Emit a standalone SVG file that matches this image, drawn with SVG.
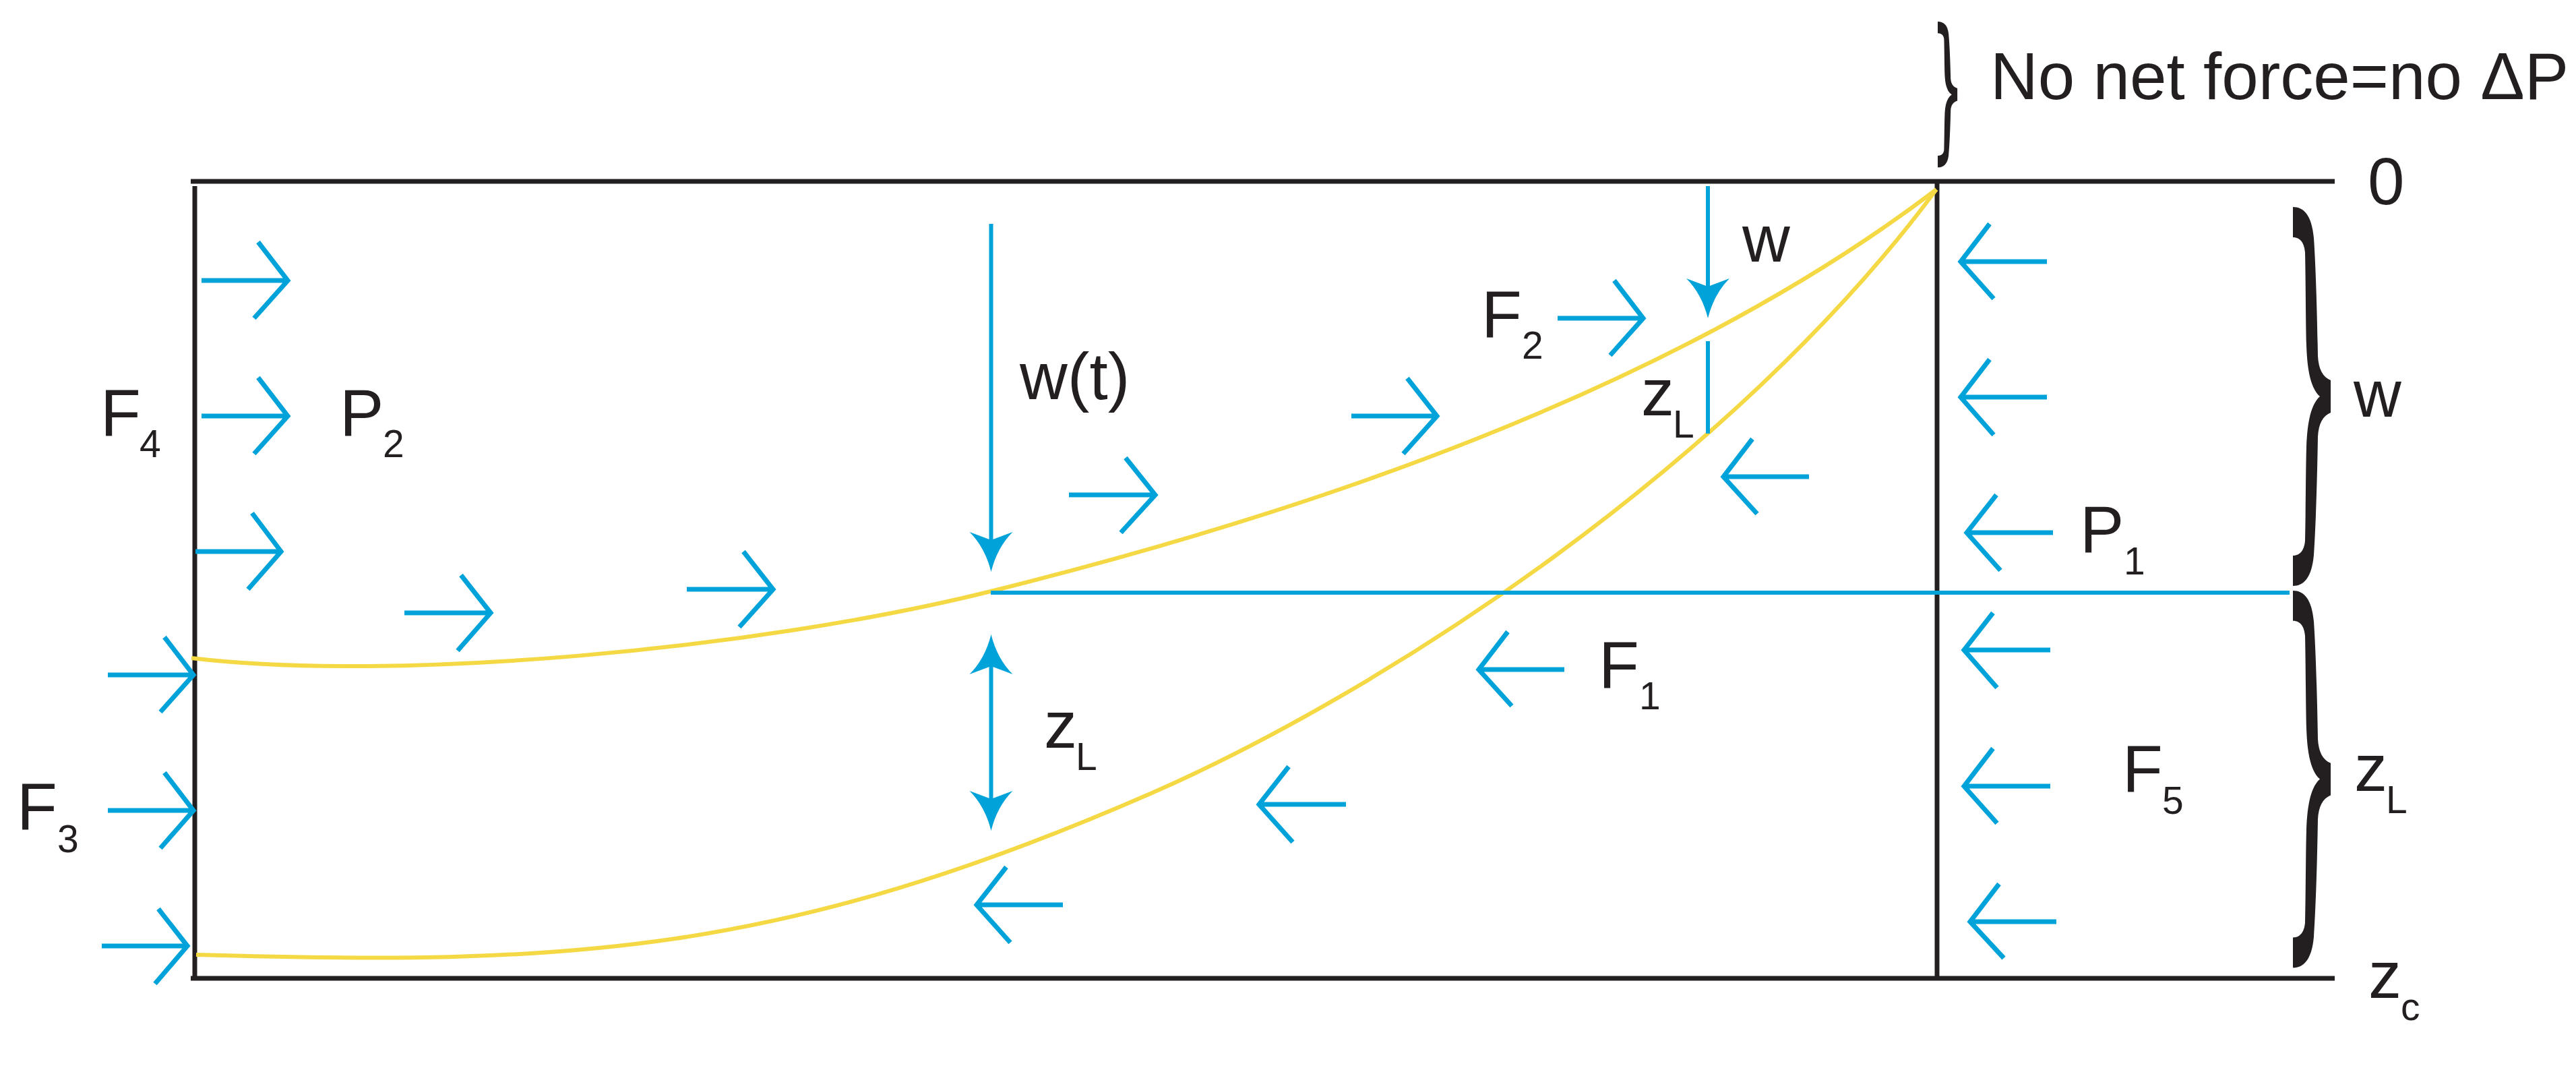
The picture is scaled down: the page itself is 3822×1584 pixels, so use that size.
<svg xmlns="http://www.w3.org/2000/svg" width="3822" height="1584" viewBox="0 0 3822 1584">
<style>
.frame{stroke:#231f20;stroke-width:7;fill:none}
.cv{stroke:#f4d944;stroke-width:6;fill:none}
.ar{stroke:#00a3d9;stroke-width:7;fill:none}
.bl{stroke:#00a3d9;stroke-width:6;fill:none}
.barb{fill:#00a3d9}
.br{fill:#231f20}
text{font-family:"Liberation Sans",Arial,Helvetica,sans-serif;fill:#231f20;font-size:98px}
.s{font-size:57px}
</style>
<defs>
<path id="barb" d="M0,0 Q-9,-36 -32,-59 L0,-47 L32,-59 Q9,-36 0,0 Z"/>
<path id="brace" d="M0,0 C16,0 28,12 31,46 C34,90 36,160 37,221 C38,240 44,252 56,257 L56,305 C44,310 38,322 37,341 C36,402 34,472 31,516 C28,550 16,562 0,562 L0,517 C12,517 17,507 18,495 C19,452 19,392 20,357 C21,330 24,295 40,281 C24,267 21,232 20,205 C19,170 19,110 18,67 C17,55 12,45 0,45 Z"/>
</defs>
<rect width="3822" height="1584" fill="#ffffff"/>

<g id="frame">
<line class="frame" x1="283" y1="269" x2="3464" y2="269"/>
<line class="frame" x1="283" y1="1451" x2="3464" y2="1451"/>
<line class="frame" x1="289" y1="276" x2="289" y2="1451"/>
<line class="frame" x1="2874" y1="269" x2="2874" y2="1451"/>
</g>

<g id="curves">
<path id="upper-curve" class="cv" d="M284,976 C584,1012 1120,964 1470,877 C1920,765 2473,585 2873,281"/>
<path id="lower-curve" class="cv" d="M291,1416 C841,1432 1157,1417 1707,1177 C2057,1024 2573,686 2873,281"/>
<line id="level-line" class="bl" x1="1470" y1="879" x2="3397" y2="879"/>
</g>

<g id="connectors">
<g id="force-arrows-right">
<path class="ar" d="M299,416 H427 M383,359 L427,416 L377,472"/>
<path class="ar" d="M299,617 H427 M383,560 L427,617 L377,673"/>
<path class="ar" d="M290,818 H417 M374,761 L417,818 L368,874"/>
<path class="ar" d="M600,909 H728 M684,853 L728,909 L679,965"/>
<path class="ar" d="M1019,874 H1147 M1103,818 L1147,874 L1097,930"/>
<path class="ar" d="M1586,734 H1714 M1670,679 L1714,734 L1663,790"/>
<path class="ar" d="M2005,617 H2132 M2088,561 L2132,617 L2082,673"/>
<path class="ar" d="M2311,472 H2438 M2395,416 L2438,472 L2389,527"/>
<path class="ar" d="M160,1001 H287 M244,945 L287,1001 L238,1056"/>
<path class="ar" d="M160,1202 H287 M244,1146 L287,1202 L238,1258"/>
<path class="ar" d="M151,1403 H278 M235,1348 L278,1403 L230,1459"/>
</g>
<g id="force-arrows-left">
<path class="ar" d="M2684,707 H2557 M2600,651 L2557,707 L2607,762"/>
<path class="ar" d="M2321,993 H2194 M2237,937 L2194,993 L2243,1047"/>
<path class="ar" d="M1997,1193 H1868 M1912,1137 L1868,1193 L1918,1249"/>
<path class="ar" d="M1577,1342 H1449 M1493,1286 L1449,1342 L1499,1398"/>
<path class="ar" d="M3037,388 H2909 M2952,332 L2909,388 L2958,443"/>
<path class="ar" d="M3037,589 H2909 M2952,533 L2909,589 L2958,645"/>
<path class="ar" d="M3046,790 H2918 M2962,734 L2918,790 L2968,846"/>
<path class="ar" d="M3042,964 H2914 M2957,909 L2914,964 L2963,1020"/>
<path class="ar" d="M3042,1166 H2914 M2957,1110 L2914,1166 L2963,1221"/>
<path class="ar" d="M3051,1367 H2923 M2966,1311 L2923,1367 L2973,1421"/>
</g>
<g id="dimension-arrows">
<line class="bl" x1="1470.5" y1="332" x2="1470.5" y2="808" stroke-width="5"/>
<use href="#barb" class="barb" x="1470.5" y="848"/>
<line class="bl" x1="1470.5" y1="985" x2="1470.5" y2="1190" stroke-width="5"/>
<use href="#barb" class="barb" transform="translate(1470.5,941) scale(1,-1)"/>
<use href="#barb" class="barb" x="1470.5" y="1232"/>
<line class="bl" x1="2534" y1="276" x2="2534" y2="432" stroke-width="5"/>
<use href="#barb" class="barb" x="2534" y="472"/>
<line class="bl" x1="2534" y1="506" x2="2534" y2="643" stroke-width="5"/>
</g>
</g>

<g id="braces">
<use id="brace-top" href="#brace" class="br" transform="translate(2875,32) scale(0.52,0.385)"/>
<use id="brace-w" href="#brace" class="br" transform="translate(3402,307)"/>
<use id="brace-zL" href="#brace" class="br" transform="translate(3402,876) scale(1,0.995)"/>
</g>

<g id="labels">
<text id="t-nonet" x="2953" y="147" font-size="97">No net force=no ΔP</text>
<text id="t-0" x="3513" y="303">0</text>
<text id="t-w-right" x="3492" y="618">w</text>
<text id="t-zL-right" x="3493" y="1173">z<tspan class="s" x="3540" y="1206">L</tspan></text>
<text id="t-zc" x="3514" y="1480">z<tspan class="s" x="3562" y="1513">c</tspan></text>
<text id="t-P1" x="3086" y="819">P<tspan class="s" x="3151" y="852">1</tspan></text>
<text id="t-F5" x="3149" y="1174">F<tspan class="s" x="3208" y="1207">5</tspan></text>
<text id="t-F1" x="2372" y="1020">F<tspan class="s" x="2432" y="1052">1</tspan></text>
<text id="t-F2" x="2198" y="500">F<tspan class="s" x="2258" y="532">2</tspan></text>
<text id="t-w" x="2585" y="388">w</text>
<text id="t-zL-top" x="2435" y="616">z<tspan class="s" x="2482" y="649">L</tspan></text>
<text id="t-wt" x="1513" y="592">w(t)</text>
<text id="t-zL-mid" x="1549" y="1109">z<tspan class="s" x="1596" y="1142">L</tspan></text>
<text id="t-F4" x="149" y="646">F<tspan class="s" x="207" y="678">4</tspan></text>
<text id="t-P2" x="504" y="646">P<tspan class="s" x="568" y="678">2</tspan></text>
<text id="t-F3" x="25" y="1230">F<tspan class="s" x="85" y="1264">3</tspan></text>
</g>
</svg>
